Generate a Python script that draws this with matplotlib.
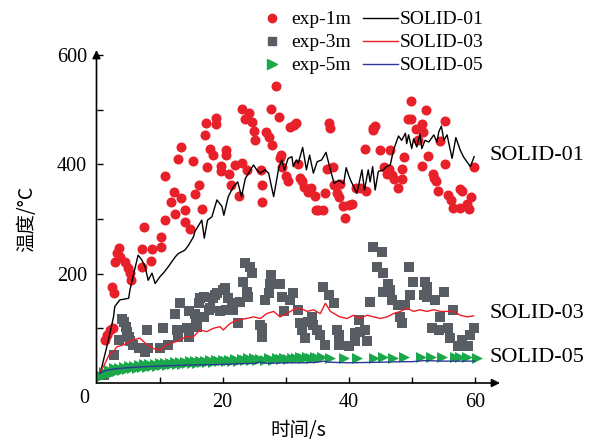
import matplotlib
matplotlib.use("Agg")
import matplotlib.pyplot as plt
from matplotlib.lines import Line2D

# ---------------- data ----------------
exp1_x = [1.3, 1.6, 2.1, 2.6, 2.4, 2.7, 3.0, 3.2, 3.5, 3.8, 4.5, 5.0, 5.3, 5.5, 7.2, 7.2, 7.6, 8.6, 8.8,
          10.2, 10.2, 10.9, 10.9, 11.8, 12.3, 12.5, 12.9, 13.4, 13.4, 14.1, 14.1, 14.9, 15.3, 15.6, 16.3,
          16.8, 17.2, 17.4, 17.5, 18.0, 18.5, 18.9, 18.9, 19.8, 19.8, 20.5, 20.5, 21.0, 21.3, 22.0, 22.6,
          23.1, 23.1, 23.5, 23.9, 24.2, 24.7, 25.0, 25.2, 26.1, 26.2, 26.3, 26.9, 27.3, 27.7, 27.8, 28.4,
          28.9, 29.1, 29.3, 29.4, 30.1, 30.4, 30.7, 31.3, 31.6, 32.0, 32.3, 32.6, 32.9, 33.6, 34.1, 34.6,
          34.8, 35.2, 36.0, 36.2, 36.5, 36.9, 37.1, 37.5, 37.6, 38.2, 38.5, 38.6, 39.1, 39.4, 40.0, 40.6,
          41.2, 41.8, 42.6, 42.8, 43.8, 44.1, 43.9, 44.9, 45.6, 46.0, 46.4, 46.6, 46.9, 47.2, 47.9, 48.4,
          48.5, 48.8, 49.4, 49.9, 49.9, 50.6, 51.0, 51.6, 51.7, 51.8, 52.3, 52.6, 53.3, 53.6, 53.8, 54.2,
          54.5, 55.2, 55.2, 55.8, 56.3, 56.5, 57.6, 58.0, 57.7, 58.8, 59.1, 59.4, 59.9]
exp1_y = [79, 88, 97, 100, 176, 165, 222, 238, 247, 230, 222, 210, 201, 188, 246, 213, 285, 224, 245,
          268, 249, 298, 379, 332, 350, 309, 410, 432, 338, 316, 295, 281, 406, 346, 363,
          318, 454, 475, 395, 429, 418, 484, 474, 397, 388, 426, 417, 382, 362, 398, 342,
          502, 403, 483, 390, 494, 477, 461, 444, 390, 363, 332, 459, 451, 502, 436, 544,
          486, 412, 417, 396, 379, 370, 469, 473, 476, 400, 376, 370, 358, 350, 357, 342,
          316, 316, 316, 347, 391, 476, 467, 395, 363, 347, 341, 364, 324, 302, 325, 328,
          356, 356, 429, 352, 463, 471, 467, 426, 395, 382, 392, 426, 380, 374, 356, 373,
          392, 413, 483, 483, 516, 465, 444, 397, 474, 459, 500, 416, 383, 376, 370, 352,
          443, 479, 400, 344, 334, 320, 355, 352, 321, 327, 318, 341, 396]

exp3_x = [1.2, 2.7, 3.6, 4.0, 4.3, 4.6, 4.8, 5.1, 5.3, 5.8, 6.8, 7.7, 8.0, 8.2, 10.1, 10.6, 11.4,
          12.5, 12.7, 13.0, 13.2, 14.3, 14.6, 14.6, 15.6, 15.8, 15.9, 16.2, 16.4, 17.0, 17.1, 17.8,
          18.0, 18.5, 18.8, 19.1, 19.6, 20.1, 20.4, 20.6, 20.9, 21.5, 21.7, 22.5, 22.8, 23.2, 23.6,
          23.8, 24.4, 24.6, 24.1, 25.9, 26.2, 26.2, 26.7, 27.3, 27.5, 27.6, 29.4, 29.1, 29.7, 30.7,
          31.2, 32.0, 32.3, 32.6, 33.1, 33.6, 34.2, 34.4, 35.0, 35.5, 36.3, 36.0, 36.8, 37.6, 38.1,
          38.4, 38.5, 38.5, 40.0, 41.0, 41.0, 41.6, 41.8, 42.6, 42.9, 43.4, 43.8, 44.5, 45.3, 45.5,
          45.5, 46.3, 46.6, 46.8, 47.9, 48.2, 48.4, 49.0, 49.5, 49.8, 50.2, 51.9, 52.1, 52.4, 52.4,
          53.2, 53.7, 54.3, 54.5, 55.1, 55.8, 56.1, 56.6, 57.4, 58.0, 59.0, 59.3, 59.8]
exp3_y = [15, 51, 79, 118, 112, 103, 94, 85, 76, 70, 64, 57, 97, 64, 64, 100, 70,
          127, 97, 85, 146, 100, 131, 85, 127, 115, 103, 146, 155, 158, 121, 134,
          137, 155, 161, 164, 131, 170, 173, 134, 155, 146, 134, 109, 149, 185, 219,
          167, 213, 201, 158, 106, 85, 100, 152, 164, 182, 198, 158, 182, 131, 152,
          165, 134, 109, 97, 82, 112, 121, 106, 97, 88, 70, 176, 161, 146, 97,
          88, 79, 70, 67, 76, 91, 115, 94, 97, 76, 149, 249, 213, 240, 201,
          167, 182, 170, 152, 143, 121, 109, 143, 213, 161, 185, 161, 185, 176, 158,
          100, 152, 97, 121, 167, 100, 82, 134, 67, 79, 67, 88, 100]

exp5_x = [0.8, 1.2, 1.6, 2.0, 2.4, 2.8, 3.2, 3.6, 4.0, 4.4, 4.8, 5.2, 5.6, 6.0, 6.4, 6.8, 7.2, 7.6,
          8.0, 8.4, 8.8, 9.2, 9.6, 10.0, 10.4, 10.8, 11.2, 11.6, 12.0, 12.4, 12.8, 13.2, 13.6, 14.0,
          14.4, 14.8, 15.2, 15.6, 16.0, 16.4, 16.8, 17.2, 17.6, 18.0, 18.5, 19.0, 19.5, 20.0, 20.5,
          21.0, 21.5, 22.0, 22.5, 23.0, 23.5, 24.0, 24.5, 25.0, 25.5, 26.0, 26.7, 27.4, 28.0, 28.6,
          29.2, 29.8, 30.4, 31.0, 31.6, 32.2, 32.8, 33.4, 34.0, 34.6, 35.2, 35.8, 37.1, 39.2, 41.3,
          44.0, 45.5, 47.1, 48.7, 51.4, 53.0, 54.8, 56.9, 57.7, 58.8, 60.3]
exp5_y = [12, 20, 16, 24, 19, 27, 22, 28, 24, 30, 25, 31, 27, 32, 28, 33, 29, 34,
          30, 35, 31, 35, 32, 36, 33, 37, 33, 37, 34, 38, 35, 38, 35, 39,
          36, 40, 36, 40, 37, 41, 38, 41, 38, 42, 39, 42, 40, 43, 40,
          43, 41, 44, 41, 44, 42, 45, 42, 45, 43, 44, 43, 45, 43, 46,
          44, 46, 44, 46, 45, 47, 45, 47, 45, 47, 46, 47, 46, 46, 45,
          46, 47, 46, 47, 47, 48, 47, 48, 47, 47, 46]

s01_x = [0.6, 1.9, 2.7, 2.9, 3.7, 5.1, 5.3, 5.8, 6.6, 7.2, 7.7, 8.2, 8.8, 9.3, 10.1, 10.6, 11.4,
         12.5, 13.0, 14.0, 14.6, 15.4, 15.6, 16.7, 17.1, 17.6, 18.3, 19.1, 19.9, 20.2, 20.9, 21.7,
         22.4, 23.0, 23.6, 24.9, 25.4, 26.0, 26.7, 27.3, 28.1, 28.9, 29.4, 29.8, 30.4, 31.0, 31.2,
         31.7, 32.0, 32.7, 33.3, 33.8, 34.4, 35.0, 35.7, 36.4, 37.1, 37.7, 38.4, 39.2, 39.6, 40.0,
         40.3, 40.8, 41.3, 42.1, 42.5, 43.1, 43.4, 43.8, 44.2, 44.7, 45.5, 46.0, 46.6, 47.1, 47.9,
         48.4, 49.0, 49.2, 49.5, 50.0, 50.3, 50.8, 51.3, 51.6, 52.1, 52.7, 53.5, 54.0, 54.3, 54.7,
         55.1, 55.6, 56.4, 57.0, 57.7, 58.2, 59.3, 59.9]
s01_y = [18, 79, 121, 140, 152, 155, 170, 195, 234, 225, 213, 188, 201, 182, 195, 201, 213,
         231, 237, 243, 252, 268, 277, 298, 265, 298, 304, 335, 323, 307, 341, 359,
         368, 341, 374, 399, 390, 384, 390, 384, 341, 393, 408, 390, 411, 414, 396,
         408, 402, 431, 390, 417, 384, 405, 408, 422, 390, 365, 371, 365, 394, 380,
         371, 359, 347, 390, 353, 390, 368, 396, 353, 387, 390, 396, 399, 426, 452,
         444, 457, 438, 454, 429, 447, 432, 455, 429, 444, 441, 454, 441, 460, 470,
         444, 454, 411, 449, 426, 414, 396, 414]

s03_x = [0.55, 1.1, 2.1, 2.7, 3.2, 4.3, 5.8, 6.9, 8.0, 9.0, 10.1, 11.1, 12.7, 14.3, 15.4, 16.4,
         17.5, 18.5, 19.6, 20.1, 21.2, 22.3, 23.8, 24.9, 26.0, 27.0, 28.1, 29.1, 30.2, 31.2, 32.3,
         33.4, 34.4, 35.5, 36.3, 37.1, 38.6, 39.7, 40.8, 41.8, 42.9, 44.0, 45.0, 46.1, 47.1, 48.2,
         49.2, 50.3, 51.3, 52.4, 53.5, 54.5, 55.6, 56.6, 57.7, 58.8, 59.8]
s03_y = [21, 30, 54, 57, 66, 70, 79, 82, 70, 63, 60, 70, 76, 85, 85, 97,
         94, 100, 103, 97, 109, 115, 118, 121, 118, 127, 131, 121, 127, 134, 137,
         131, 134, 127, 146, 131, 121, 118, 124, 118, 124, 121, 118, 121, 127, 131,
         137, 131, 134, 131, 134, 131, 131, 131, 124, 121, 123]

s05_x = [0.5, 1.0, 2.0, 3.0, 5.0, 8.0, 10.0, 15.0, 20.0, 22.0, 25.0, 26.0, 27.0, 30.0, 33.0, 35.0,
         36.0, 37.0, 40.0, 45.0, 48.0, 50.0, 52.0, 55.0, 60.0]
s05_y = [17, 21, 24, 26, 28, 30, 31, 33, 34, 35, 36, 38, 36, 37, 37, 38,
         40, 38, 37, 38, 39, 39, 41, 40, 40]

x_ticklabels = ["20", "40", "60"]
y_ticklabels = ["200", "400", "600"]
right_labels = ["SOLID-01", "SOLID-03", "SOLID-05"]
right_label_y = [417, 128, 46]

# ---------------- style ----------------
serif = ["Liberation Serif", "DejaVu Serif"]
cjk = ["Noto Sans CJK SC", "DejaVu Sans"]
plt.rcParams["font.family"] = serif
plt.rcParams["mathtext.fontset"] = "stix"

RED = "#e8202a"
GRAY = "#575d63"
GREEN = "#1aa84a"
NAVY = "#2b3896"
LRED = "#ee1c25"

fig = plt.figure(figsize=(5.96, 4.43), dpi=100)
W, H = 596, 443
x0, y0 = 96.5, 383
x1, y1 = 500, 54
ax = fig.add_axes([x0 / W, 1 - y0 / H, (x1 - x0) / W, (y0 - y1) / H])
ax.set_xlim(0, 64)
ax.set_ylim(0, 602)

ax.scatter(exp1_x, exp1_y, s=52, marker="o", color=RED, linewidths=0, zorder=3)
ax.scatter(exp3_x, exp3_y, s=44, marker="s", color=GRAY, linewidths=0, zorder=3)
ax.scatter(exp5_x, exp5_y, s=62, marker=">", color=GREEN, linewidths=0, zorder=3)
ax.plot(s01_x, s01_y, color="black", lw=1.0, zorder=4)
ax.plot(s03_x, s03_y, color=LRED, lw=1.0, zorder=4)
ax.plot(s05_x, s05_y, color=NAVY, lw=1.0, zorder=4)

for sp in ax.spines.values():
    sp.set_visible(False)
ax.annotate("", xy=(1, 0), xytext=(0, 0), xycoords="axes fraction",
            arrowprops=dict(arrowstyle="-|>", lw=1.2, color="black", mutation_scale=12,
                            shrinkA=0, shrinkB=0))
ax.annotate("", xy=(0, 1.012), xytext=(0, 0), xycoords="axes fraction",
            arrowprops=dict(arrowstyle="-|>", lw=1.2, color="black", mutation_scale=12,
                            shrinkA=0, shrinkB=0))

ax.set_xticks([10, 20, 30, 40, 50, 60])
ax.set_xticklabels(["", x_ticklabels[0], "", x_ticklabels[1], "", x_ticklabels[2]])
ax.set_yticks([100, 200, 300, 400, 500, 600])
ax.set_yticklabels(["", y_ticklabels[0], "", y_ticklabels[1], "", y_ticklabels[2]])
ax.tick_params(direction="in", length=4, width=1, labelsize=14.5, pad=7)
ax.annotate("0", xy=(0, 0), xycoords="axes fraction", xytext=(-8.5, -11.5),
            textcoords="offset points", ha="center", va="center", fontsize=14.5)

for lab, yy in zip(right_labels, right_label_y):
    ax.text(62.3, yy, lab, fontsize=16, va="center", ha="left")

ax.set_xlabel("时间/s", fontsize=14, family=cjk, labelpad=6)
ax.set_ylabel("温度/°C", fontsize=14, family=cjk, labelpad=14)

handles = [
    Line2D([], [], ls="none", marker="o", color=RED, markersize=6),
    Line2D([], [], ls="none", marker="s", color=GRAY, markersize=5.5),
    Line2D([], [], ls="none", marker=">", color=GREEN, markersize=6.5),
    Line2D([], [], color="black", lw=1.0),
    Line2D([], [], color=LRED, lw=1.0),
    Line2D([], [], color=NAVY, lw=1.0),
]
labels = ["exp-1m", "exp-3m", "exp-5m", "SOLID-01", "SOLID-03", "SOLID-05"]
fig.legend(handles, labels, ncol=2, loc="upper left",
           bbox_to_anchor=(245 / W, 1 - 1 / H), frameon=False, fontsize=14,
           borderpad=0, labelspacing=0.28, handlelength=1.8, handletextpad=0.1,
           columnspacing=0.6)

fig.savefig("out.png", dpi=100)
